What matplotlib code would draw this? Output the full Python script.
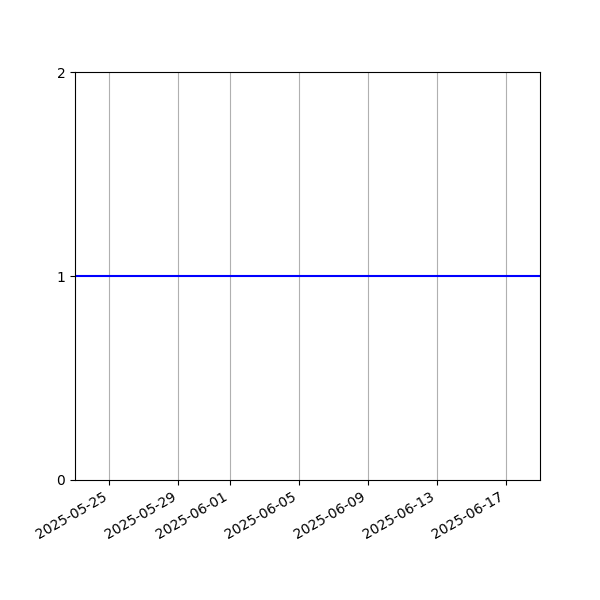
import matplotlib
matplotlib.use("Agg")
import matplotlib.pyplot as plt
import matplotlib.dates as mdates
import pandas as pd

dates = pd.date_range("2025-05-23", "2025-06-19", freq="D")
values = [1] * len(dates)
yticks = [0, 1, 2]

fig, ax = plt.subplots(figsize=(6, 6), dpi=100)
ax.plot(dates, values, color="blue", linewidth=1.5)
ax.set_xlim(dates[0], dates[-1])
ax.set_ylim(0, 2)
ax.set_yticks(yticks)
ax.xaxis.set_major_locator(mdates.DayLocator(bymonthday=[1, 5, 9, 13, 17, 21, 25, 29]))
ax.xaxis.set_major_formatter(mdates.DateFormatter("%Y-%m-%d"))
ax.grid(True, axis="x")
ax.set_axisbelow(True)
fig.autofmt_xdate()
fig.savefig("out.png", dpi=100)
